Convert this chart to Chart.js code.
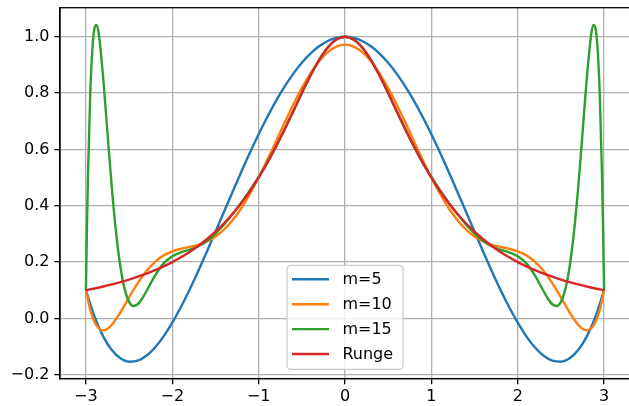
<!DOCTYPE html>
<html>
<head>
<meta charset="utf-8">
<script src="https://cdn.jsdelivr.net/npm/chart.js@4"></script>
<style>
  html, body { margin: 0; padding: 0; background: #fff; overflow: hidden; width: 629px; height: 406px; }
  canvas { display: block; }
</style>
</head>
<body>
<canvas id="runge" width="632" height="406"></canvas>
<script>
/* ====== data ====== */
const xs = [-3.0, -2.9, -2.8, -2.7, -2.6, -2.5, -2.4, -2.3, -2.2, -2.1, -2.0, -1.9, -1.8, -1.7, -1.6, -1.5,
  -1.4, -1.3, -1.2, -1.1, -1.0, -0.9, -0.8, -0.7, -0.6, -0.5, -0.4, -0.3, -0.2, -0.1, 0.0,
  0.1, 0.2, 0.3, 0.4, 0.5, 0.6, 0.7, 0.8, 0.9, 1.0, 1.1, 1.2, 1.3, 1.4, 1.5,
  1.6, 1.7, 1.8, 1.9, 2.0, 2.1, 2.2, 2.3, 2.4, 2.5, 2.6, 2.7, 2.8, 2.9, 3.0];

const runge = [0.1000, 0.1063, 0.1131, 0.1206, 0.1289, 0.1379, 0.1479, 0.1590, 0.1712, 0.1848, 0.2000,
  0.2169, 0.2358, 0.2571, 0.2809, 0.3077, 0.3378, 0.3717, 0.4098, 0.4525, 0.5000, 0.5525, 0.6098,
  0.6711, 0.7353, 0.8000, 0.8621, 0.9174, 0.9615, 0.9901, 1.0000,
  0.9901, 0.9615, 0.9174, 0.8621, 0.8000, 0.7353, 0.6711, 0.6098, 0.5525, 0.5000, 0.4525, 0.4098,
  0.3717, 0.3378, 0.3077, 0.2809, 0.2571, 0.2358, 0.2169, 0.2000, 0.1848, 0.1712, 0.1590, 0.1479,
  0.1379, 0.1289, 0.1206, 0.1131, 0.1063, 0.1000];

const m5 = [0.1000, 0.0064, -0.0638, -0.1126, -0.1419, -0.1538, -0.1502, -0.1329, -0.1035, -0.0638, -0.0154,
  0.0403, 0.1018, 0.1677, 0.2367, 0.3077, 0.3794, 0.4509, 0.5210, 0.5890, 0.6538, 0.7149, 0.7714,
  0.8227, 0.8683, 0.9077, 0.9405, 0.9663, 0.9850, 0.9962, 1.0000,
  0.9962, 0.9850, 0.9663, 0.9405, 0.9077, 0.8683, 0.8227, 0.7714, 0.7149, 0.6538, 0.5890, 0.5210,
  0.4509, 0.3794, 0.3077, 0.2367, 0.1677, 0.1018, 0.0403, -0.0154, -0.0638, -0.1035, -0.1329, -0.1502,
  -0.1538, -0.1419, -0.1126, -0.0638, 0.0064, 0.1000];

const xs10 = [-3.0, -2.95, -2.9, -2.85, -2.8, -2.75, -2.7, -2.6, -2.5, -2.4, -2.3, -2.2, -2.1, -2.0,
  -1.9, -1.8, -1.7, -1.6, -1.5, -1.4, -1.3, -1.2, -1.1, -1.0, -0.9, -0.8, -0.7, -0.6, -0.5, -0.4,
  -0.3, -0.2, -0.1, 0.0, 0.1, 0.2, 0.3, 0.4, 0.5, 0.6, 0.7, 0.8, 0.9, 1.0, 1.1, 1.2, 1.3, 1.4,
  1.5, 1.6, 1.7, 1.8, 1.9, 2.0, 2.1, 2.2, 2.3, 2.4, 2.5, 2.6, 2.7, 2.75, 2.8, 2.85, 2.9, 2.95, 3.0];

const m10 = [0.1000, 0.0307, -0.0128, -0.0356, -0.0424, -0.0370, -0.0227, 0.0218, 0.0747, 0.1255, 0.1684,
  0.2010, 0.2237, 0.2381, 0.2471, 0.2538, 0.2614, 0.2729, 0.2904, 0.3156, 0.3494, 0.3919, 0.4425,
  0.5000, 0.5626, 0.6282, 0.6943, 0.7583, 0.8177, 0.8701, 0.9133, 0.9455, 0.9653, 0.9721,
  0.9653, 0.9455, 0.9133, 0.8701, 0.8177, 0.7583, 0.6943, 0.6282, 0.5626, 0.5000, 0.4425, 0.3919,
  0.3494, 0.3156, 0.2904, 0.2729, 0.2614, 0.2538, 0.2471, 0.2381, 0.2237, 0.2010, 0.1684, 0.1255,
  0.0747, 0.0218, -0.0227, -0.0370, -0.0424, -0.0356, -0.0128, 0.0307, 0.1000];

const xs15 = [-3.0, -2.9875, -2.975, -2.95, -2.925, -2.9, -2.875, -2.85, -2.8, -2.75, -2.7, -2.65, -2.6,
  -2.55, -2.5, -2.45, -2.4, -2.35, -2.3, -2.2, -2.1, -2.0, -1.9, -1.8, -1.7, -1.6, -1.5, -1.4, -1.3,
  -1.2, -1.1, -1.0, -0.9, -0.8, -0.7, -0.6, -0.5, -0.4, -0.3, -0.2, -0.1, 0.0,
  0.1, 0.2, 0.3, 0.4, 0.5, 0.6, 0.7, 0.8, 0.9, 1.0, 1.1, 1.2, 1.3, 1.4, 1.5, 1.6, 1.7, 1.8, 1.9,
  2.0, 2.1, 2.2, 2.3, 2.35, 2.4, 2.45, 2.5, 2.55, 2.6, 2.65, 2.7, 2.75, 2.8, 2.85, 2.875, 2.9,
  2.925, 2.95, 2.975, 2.9875, 3.0];

const m15 = [0.1000, 0.3310, 0.5208, 0.7954, 0.9565, 1.0313, 1.0420, 1.0068, 0.8541, 0.6570, 0.4646,
  0.3029, 0.1818, 0.1020, 0.0585, 0.0440, 0.0502, 0.0698, 0.0963, 0.1520, 0.1952, 0.2210, 0.2346,
  0.2439, 0.2560, 0.2747, 0.3010, 0.3338, 0.3713, 0.4121, 0.4557, 0.5024, 0.5532, 0.6089, 0.6695,
  0.7338, 0.7994, 0.8623, 0.9181, 0.9621, 0.9903, 1.0000,
  0.9903, 0.9621, 0.9181, 0.8623, 0.7994, 0.7338, 0.6695, 0.6089, 0.5532, 0.5024, 0.4557, 0.4121,
  0.3713, 0.3338, 0.3010, 0.2747, 0.2560, 0.2439, 0.2346, 0.2210, 0.1952, 0.1520, 0.0963, 0.0698,
  0.0502, 0.0440, 0.0585, 0.1020, 0.1818, 0.3029, 0.4646, 0.6570, 0.8541, 1.0068, 1.0420, 1.0313,
  0.9565, 0.7954, 0.5208, 0.3310, 0.1000];

const xTicks = [-3, -2, -1, 0, 1, 2, 3];
const xTickLabels = ["−3", "−2", "−1", "0", "1", "2", "3"];
const yTicks = [-0.2, 0.0, 0.2, 0.4, 0.6, 0.8, 1.0];
const yTickLabels = ["−0.2", "0.0", "0.2", "0.4", "0.6", "0.8", "1.0"];

const seriesNames = ["m=5", "m=10", "m=15", "Runge"];
const seriesColors = ["#1f77b4", "#ff7f0e", "#2ca02c", "#d62728"];

/* ====== helpers ====== */
const pts = (x, y) => x.map((v, i) => ({ x: v, y: y[i] }));
Chart.defaults.font.family = "'DejaVu Sans'";
Chart.defaults.font.size = 16;
Chart.defaults.color = "#000";

// 外框 + 图例（matplotlib 风格，画在坐标区内部下方居中）
const frameAndLegend = {
  id: "frameAndLegend",
  afterDraw(chart) {
    const { ctx, chartArea: a } = chart;
    ctx.save();
    ctx.strokeStyle = "#000";
    ctx.lineWidth = 1.3;
    ctx.strokeRect(a.left, a.top, a.right - a.left, a.bottom - a.top);

    const w = 116, h = 104, cx = (a.left + a.right) / 2;
    const left = cx - w / 2, top = a.bottom - 9.3 - h;
    ctx.beginPath();
    ctx.roundRect(left, top, w, h, 4);
    ctx.fillStyle = "rgba(255,255,255,0.8)";
    ctx.fill();
    ctx.strokeStyle = "#cccccc";
    ctx.lineWidth = 1.3;
    ctx.stroke();

    ctx.font = "16px 'DejaVu Sans'";
    ctx.textBaseline = "middle";
    ctx.textAlign = "left";
    seriesNames.forEach((name, i) => {
      const y = top + 14 + i * 24.9;
      ctx.strokeStyle = seriesColors[i];
      ctx.lineWidth = 2.4;
      ctx.beginPath();
      ctx.moveTo(left + 5, y);
      ctx.lineTo(left + 42, y);
      ctx.stroke();
      ctx.fillStyle = "#000";
      ctx.fillText(name, left + 55.4, y + 0.5);
    });
    ctx.restore();
  },
};

// 固定坐标轴占位，去掉 Chart.js 为首尾标签加的额外留白
const fixAxis = (size) => (s) => {
  if (s.isHorizontal()) s.height = size; else s.width = size;
  s.paddingTop = 0; s.paddingBottom = 0; s.paddingLeft = 0; s.paddingRight = 0;
};

/* ====== chart ====== */
const series = [xs, xs10, xs15, xs];
const values = [m5, m10, m15, runge];

new Chart(document.getElementById("runge").getContext("2d"), {
  type: "line",
  data: {
    datasets: seriesNames.map((name, i) => ({
      label: name,
      data: pts(series[i], values[i]),
      borderColor: seriesColors[i],
      borderWidth: 2.4,
      pointRadius: 0,
      cubicInterpolationMode: "monotone",
      fill: false,
      order: 3 - i, // Runge 在最上层
    })),
  },
  options: {
    responsive: false,
    animation: false,
    events: [],
    layout: { padding: { top: 7.7, right: 2, left: 0, bottom: 0 } },
    plugins: { legend: { display: false }, tooltip: { enabled: false } },
    scales: {
      x: {
        type: "linear",
        min: -3.3,
        max: 3.3,
        afterBuildTicks: (s) => { s.ticks = xTicks.map((v) => ({ value: v })); },
        afterFit: fixAxis(27.4),
        ticks: {
          font: { size: 16 },
          padding: 3,
          maxRotation: 0,
          autoSkip: false,
          callback: (v, i) => xTickLabels[i],
        },
        grid: { color: "#b0b0b0", lineWidth: 1.3, tickLength: 5.6, tickColor: "#000", tickWidth: 1.3 },
        border: { display: true, color: "#000", width: 1.3 },
      },
      y: {
        type: "linear",
        min: -0.2138,
        max: 1.1032,
        afterBuildTicks: (s) => { s.ticks = yTicks.map((v) => ({ value: v })); },
        afterFit: fixAxis(60),
        ticks: {
          font: { size: 16 },
          padding: 5,
          autoSkip: false,
          callback: (v, i) => yTickLabels[i],
        },
        grid: { color: "#b0b0b0", lineWidth: 1.3, tickLength: 5.6, tickColor: "#000", tickWidth: 1.3 },
        border: { display: true, color: "#000", width: 1.3 },
      },
    },
  },
  plugins: [frameAndLegend],
});
</script>
</body>
</html>
